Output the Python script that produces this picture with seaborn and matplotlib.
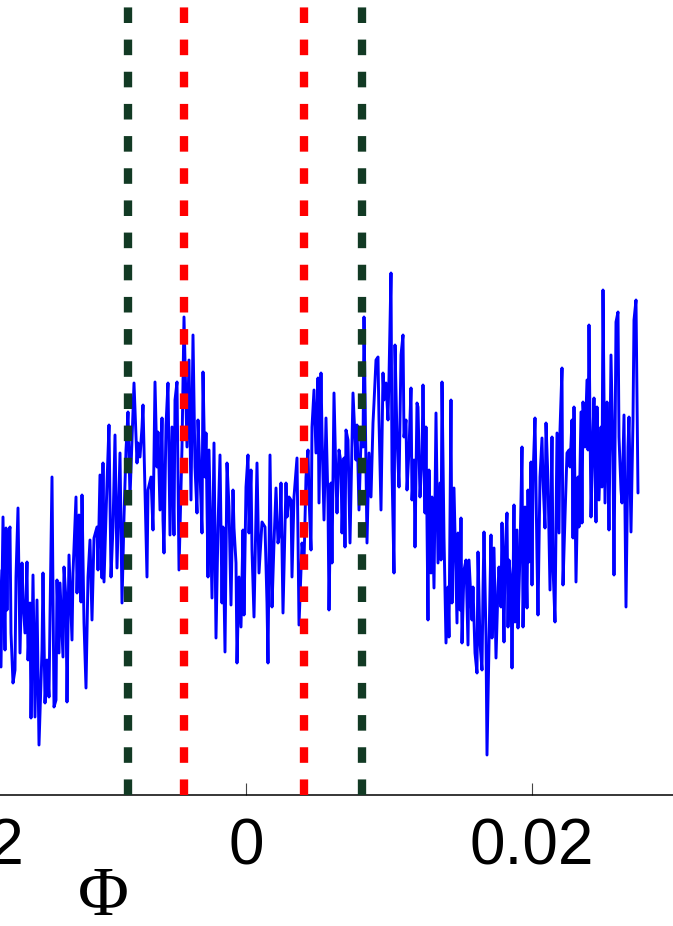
import matplotlib
matplotlib.use("Agg")
import matplotlib.pyplot as plt
import matplotlib.transforms as mtransforms
import numpy as np
import pandas as pd
import seaborn as sns

# Folded light curve: orbital phase and measured signal
phase = [
    -0.01729, -0.01715, -0.01701, -0.01687, -0.01680, -0.01673, -0.01666, -0.01652,
    -0.01645, -0.01631, -0.01617, -0.01610, -0.01596, -0.01582, -0.01568, -0.01561,
    -0.01547, -0.01533, -0.01526, -0.01512, -0.01505, -0.01491, -0.01477, -0.01463,
    -0.01449, -0.01428, -0.01421, -0.01407, -0.01393, -0.01379, -0.01372, -0.01358,
    -0.01344, -0.01330, -0.01323, -0.01309, -0.01302, -0.01281, -0.01274, -0.01260,
    -0.01253, -0.01239, -0.01218, -0.01211, -0.01190, -0.01183, -0.01169, -0.01155,
    -0.01148, -0.01134, -0.01120, -0.01106, -0.01092, -0.01078, -0.01064, -0.01043,
    -0.01036, -0.01022, -0.01008, -0.01001, -0.00994, -0.00973, -0.00959, -0.00945,
    -0.00931, -0.00917, -0.00903, -0.00882, -0.00868, -0.00854, -0.00840, -0.00826,
    -0.00812, -0.00798, -0.00784, -0.00763, -0.00756, -0.00742, -0.00728, -0.00721,
    -0.00693, -0.00686, -0.00665, -0.00651, -0.00637, -0.00623, -0.00616, -0.00602,
    -0.00588, -0.00581, -0.00574, -0.00560, -0.00546, -0.00532, -0.00518, -0.00504,
    -0.00497, -0.00483, -0.00469, -0.00448, -0.00434, -0.00413, -0.00399, -0.00385,
    -0.00371, -0.00357, -0.00343, -0.00336, -0.00322, -0.00308, -0.00301, -0.00287,
    -0.00280, -0.00266, -0.00259, -0.00238, -0.00224, -0.00210, -0.00196, -0.00182,
    -0.00168, -0.00161, -0.00147, -0.00133, -0.00119, -0.00105, -0.00091, -0.00084,
    -0.00070, -0.00063, -0.00049, -0.00035, -0.00021, -0.00014, 0.00000, 0.00014,
    0.00021, 0.00035, 0.00042, 0.00056, 0.00070, 0.00077, 0.00091, 0.00112,
    0.00133, 0.00147, 0.00154, 0.00168, 0.00182, 0.00196, 0.00210, 0.00224,
    0.00238, 0.00245, 0.00259, 0.00280, 0.00287, 0.00301, 0.00315, 0.00322,
    0.00336, 0.00357, 0.00364, 0.00371, 0.00392, 0.00406, 0.00420, 0.00434,
    0.00441, 0.00455, 0.00462, 0.00476, 0.00490, 0.00504, 0.00511, 0.00525,
    0.00532, 0.00546, 0.00560, 0.00574, 0.00581, 0.00595, 0.00602, 0.00616,
    0.00630, 0.00637, 0.00651, 0.00665, 0.00672, 0.00686, 0.00693, 0.00700,
    0.00714, 0.00728, 0.00749, 0.00770, 0.00777, 0.00791, 0.00805, 0.00819,
    0.00826, 0.00840, 0.00847, 0.00861, 0.00875, 0.00889, 0.00896, 0.00910,
    0.00924, 0.00931, 0.00945, 0.00959, 0.00966, 0.00980, 0.00994, 0.01001,
    0.01015, 0.01022, 0.01036, 0.01043, 0.01057, 0.01071, 0.01085, 0.01099,
    0.01106, 0.01120, 0.01127, 0.01141, 0.01155, 0.01162, 0.01176, 0.01183,
    0.01197, 0.01204, 0.01218, 0.01232, 0.01239, 0.01253, 0.01260, 0.01274,
    0.01281, 0.01295, 0.01302, 0.01316, 0.01330, 0.01344, 0.01358, 0.01365,
    0.01372, 0.01386, 0.01400, 0.01414, 0.01421, 0.01435, 0.01442, 0.01456,
    0.01477, 0.01484, 0.01498, 0.01505, 0.01512, 0.01526, 0.01540, 0.01554,
    0.01561, 0.01582, 0.01589, 0.01603, 0.01617, 0.01624, 0.01638, 0.01652,
    0.01659, 0.01666, 0.01680, 0.01687, 0.01701, 0.01715, 0.01722, 0.01736,
    0.01750, 0.01764, 0.01771, 0.01785, 0.01792, 0.01806, 0.01813, 0.01827,
    0.01834, 0.01841, 0.01855, 0.01862, 0.01876, 0.01883, 0.01897, 0.01904,
    0.01918, 0.01932, 0.01939, 0.01953, 0.01967, 0.01974, 0.01981, 0.01995,
    0.02002, 0.02009, 0.02023, 0.02037, 0.02044, 0.02058, 0.02072, 0.02079,
    0.02093, 0.02100, 0.02114, 0.02128, 0.02142, 0.02149, 0.02163, 0.02177,
    0.02191, 0.02198, 0.02212, 0.02219, 0.02233, 0.02247, 0.02261, 0.02268,
    0.02282, 0.02289, 0.02296, 0.02310, 0.02324, 0.02331, 0.02345, 0.02352,
    0.02359, 0.02373, 0.02387, 0.02394, 0.02401, 0.02415, 0.02429, 0.02436,
    0.02450, 0.02457, 0.02471, 0.02485, 0.02492, 0.02499, 0.02513, 0.02527,
    0.02534, 0.02541, 0.02555, 0.02569, 0.02576, 0.02590, 0.02604, 0.02611,
    0.02625, 0.02632, 0.02646, 0.02660, 0.02674, 0.02681, 0.02695, 0.02709,
    0.02716, 0.02730, 0.02744,
]
signal = [
    225, 128, 278, 145, 267, 185, 258, 268,
    162, 112, 125, 218, 287, 142, 232, 195,
    162, 233, 135, 192, 77, 220, 78, 195,
    50, 145, 222, 92, 135, 98, 178, 318,
    88, 95, 215, 142, 212, 138, 228, 195,
    93, 240, 155, 222, 298, 202, 280, 193,
    300, 172, 107, 218, 255, 175, 257, 268,
    225, 320, 217, 332, 213, 312, 370, 218,
    268, 360, 227, 342, 192, 278, 345, 383,
    298, 355, 412, 332, 352, 338, 368, 390,
    218, 305, 318, 265, 413, 328, 363, 285,
    377, 275, 242, 370, 412, 260, 368, 260,
    395, 413, 225, 348, 478, 348, 435, 295,
    460, 328, 282, 375, 322, 262, 423, 318,
    362, 218, 345, 197, 352, 157, 268, 340,
    192, 268, 143, 332, 288, 190, 305, 267,
    232, 132, 218, 168, 265, 180, 308, 340,
    262, 325, 245, 178, 282, 332, 222, 273,
    268, 192, 132, 340, 188, 252, 307, 252,
    265, 312, 182, 312, 278, 298, 295, 218,
    298, 337, 258, 170, 252, 232, 318, 345,
    298, 245, 368, 405, 342, 417, 292, 422,
    362, 275, 377, 292, 185, 312, 232, 402,
    315, 282, 345, 332, 262, 337, 248, 365,
    355, 252, 402, 335, 370, 285, 355, 348,
    478, 322, 252, 342, 298, 372, 392, 435,
    438, 375, 285, 422, 395, 412, 375, 418,
    522, 325, 222, 450, 358, 308, 440, 460,
    358, 375, 305, 345, 407, 295, 335, 248,
    392, 388, 298, 338, 410, 282, 368, 175,
    325, 222, 298, 207, 382, 232, 312, 235,
    413, 258, 152, 208, 158, 395, 192, 307,
    172, 262, 185, 277, 152, 225, 235, 150,
    235, 175, 208, 142, 122, 243, 152, 125,
    205, 263, 158, 40, 152, 260, 157, 247,
    137, 208, 228, 188, 272, 153, 238, 282,
    168, 235, 212, 127, 290, 173, 265, 167,
    243, 348, 168, 288, 187, 305, 233, 333,
    210, 318, 377, 238, 180, 318, 357, 315,
    267, 372, 315, 205, 358, 228, 173, 362,
    262, 365, 427, 210, 278, 342, 345, 328,
    375, 257, 388, 213, 318, 268, 383, 272,
    393, 348, 415, 345, 470, 278, 362, 397,
    273, 388, 295, 368, 308, 505, 292, 393,
    338, 265, 440, 338, 220, 473, 483, 358,
    305, 292, 380, 188, 348, 378, 263, 375,
    475, 495, 302,
]

# Transit boundaries: inner (red) and outer (dark green) contact phases
inner_contacts = [-0.00434, 0.00406]
outer_contacts = [-0.00826, 0.00812]

tick_values = [-0.02, 0.0, 0.02]
tick_labels = ["-0.02", "0", "0.02"]

sns.set_style("white")
plt.rcParams["font.family"] = ["Liberation Sans", "DejaVu Sans"]

fig = plt.figure(figsize=(6.73, 9.26), dpi=100)
ax = fig.add_axes([-0.27128, 0.14147, 1.27361, 0.85853])

df = pd.DataFrame({"phase": phase, "signal": signal})
sns.lineplot(data=df, x="phase", y="signal", color="#0000ff", linewidth=2.1,
             estimator=None, sort=False, ax=ax, zorder=2)

dash = (0, (1.87, 1.99))
for x in outer_contacts:
    ax.axvline(x, color="#123a24", linewidth=6.0, linestyle=dash, zorder=3)
for x in inner_contacts:
    ax.axvline(x, color="#ff0000", linewidth=6.0, linestyle=dash, zorder=3)

ax.set_xlim(-0.03, 0.03)
ax.set_ylim(0, 795)
ax.set_xticks(tick_values, tick_labels)
ax.set_yticks([])
ax.tick_params(axis="x", direction="in", length=9, width=0.8, color="#444444",
               labelsize=46, labelcolor="black", pad=16, bottom=True)

# Nudge the leftmost (partly clipped) tick label slightly left
first_label = ax.get_xticklabels()[0]
first_label.set_transform(first_label.get_transform()
                          + mtransforms.ScaledTranslation(-0.09, 0, fig.dpi_scale_trans))

for side in ["top", "right", "left"]:
    ax.spines[side].set_visible(False)
ax.spines["bottom"].set_color("black")
ax.spines["bottom"].set_linewidth(1.1)
ax.set_xlabel("")
ax.set_ylabel("")

fig.text(103 / 673, (926 - 898) / 926, "Φ", family=["Liberation Serif", "DejaVu Serif"],
         fontsize=50, fontweight="normal", color="black", ha="center", va="center")

fig.savefig("out.png", dpi=100)
